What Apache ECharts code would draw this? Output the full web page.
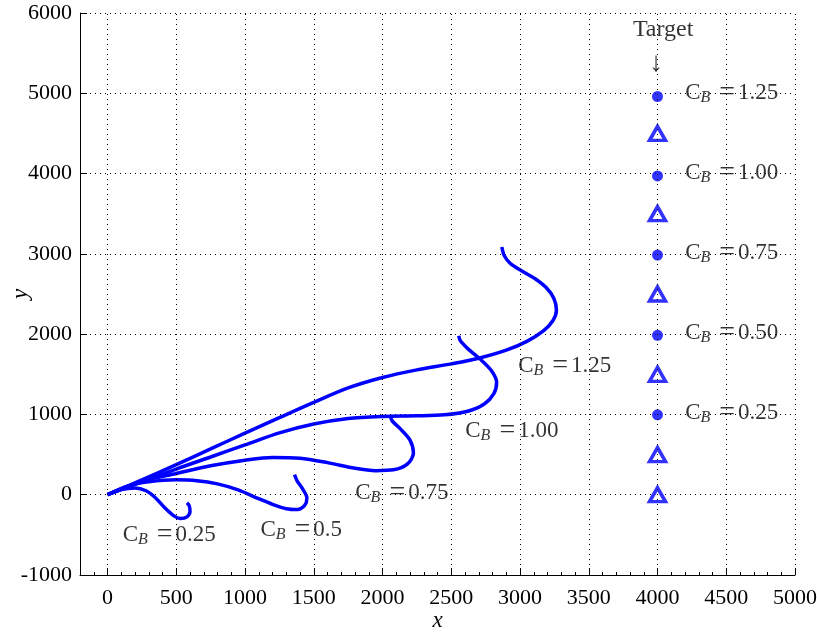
<!DOCTYPE html>
<html><head><meta charset="utf-8">
<script src="https://cdn.jsdelivr.net/npm/echarts@6/dist/echarts.min.js"></script>
<style>html,body{margin:0;padding:0;background:#fff}#c{width:817px;height:635px}</style>
</head><body><div id="c"></div>
<script>
// ---- data ----
const cb025 = [[0,0],[100,65],[200,85],[280,50],[350,-40],[420,-170],[480,-260],[530,-295],[575,-280],[600,-210],[595,-140],[578,-100]];
const cb050 = [[0,0],[150,110],[300,160],[500,185],[650,175],[800,135],[950,60],[1100,-50],[1200,-120],[1300,-175],[1380,-185],[1435,-130],[1450,-40],[1420,70],[1380,170],[1360,250]];
const cb075 = [[0,0],[250,165],[500,265],[750,360],[1000,430],[1200,465],[1400,455],[1600,400],[1800,330],[1950,300],[2080,310],[2180,380],[2225,520],[2200,680],[2130,820],[2070,920],[2055,995]];
const cb100 = [[0,0],[250,160],[500,320],[750,470],[1000,620],[1250,770],[1500,880],[1750,950],[2000,975],[2250,982],[2450,995],[2620,1040],[2740,1130],[2810,1260],[2830,1400],[2790,1550],[2710,1690],[2620,1820],[2565,1920],[2555,1980]];
const cb125 = [[0,0],[250,185],[500,374],[750,570],[1000,768],[1250,960],[1500,1150],[1750,1330],[2000,1460],[2250,1555],[2500,1630],[2700,1700],[2900,1800],[3050,1910],[3170,2040],[3240,2170],[3265,2300],[3245,2450],[3190,2580],[3110,2690],[3010,2790],[2930,2880],[2885,2980],[2868,3085]];
const targetCircles = [[4000,4960],[4000,3970],[4000,2985],[4000,1985],[4000,995]];
const targetTriangles = [[4000,4500],[4000,3500],[4000,2500],[4000,1500],[4000,500],[4000,0]];
const xTicks = [0,500,1000,1500,2000,2500,3000,3500,4000,4500,5000];
// annotation anchors (left-middle of text)
const curveLabels = [[110,-500,'0.25'],[1112,-436,'0.5'],[1802,25,'0.75'],[2602,797,'1.00'],[2987,1606,'1.25']];
const targetLabels = [[4201,5010,'1.25'],[4201,4010,'1.00'],[4201,3014,'0.75'],[4201,2017,'0.50'],[4201,1021,'0.25']];

const FONT = '"Liberation Serif", "DejaVu Serif", serif';
const BLUE = '#0000ff';
const rich = {
  c: {fontFamily: FONT, fontSize: 23, color: '#000', lineHeight: 26, verticalAlign: 'middle'},
  e: {fontFamily: FONT, fontSize: 28, color: '#000', lineHeight: 26, verticalAlign: 'middle', padding:[0,3,0,9]},
  b: {fontFamily: FONT, fontSize: 16, fontStyle: 'italic', color: '#000', lineHeight: 10, verticalAlign: 'bottom'}
};
function cbText(v){ return '{c|C}{b|B}{e|=}{c|' + v + '}'; }

const chart = echarts.init(document.getElementById('c'), null, {renderer: 'canvas'});
function lineSeries(d){
  return {type:'line', data:d, showSymbol:false, symbol:'none', smooth:0.3, lineStyle:{color:BLUE, width:3.5}, z:3, silent:true};
}
const labelSeries = (arr) => ({
  type:'scatter', symbolSize:0, silent:true, z:5,
  data: arr.map(a=>({value:[a[0],a[1]], label:{show:true, position:'right', distance:0, formatter: cbText(a[2]), rich: rich}}))
});
chart.setOption({
  animation:false,
  grid:{left:80, right:22, top:13, bottom:60, containLabel:false, outerBoundsMode:'none'},
  xAxis:[{
    type:'value', min:-200, max:5000, interval:100,
    axisLine:{show:true, onZero:false, lineStyle:{color:'#000', width:1}},
    axisTick:{show:true, inside:true, length:3, lineStyle:{color:'#000'}},
    axisLabel:{show:false}, splitLine:{show:false}
  },{
    type:'value', min:-200, max:5000, position:'bottom', offset:0,
    axisLine:{show:false, onZero:false},
    axisTick:{show:true, inside:true, length:7, customValues:xTicks, lineStyle:{color:'#000'}},
    axisLabel:{show:true, customValues:xTicks, margin:12, fontFamily:FONT, fontSize:22, color:'#000', formatter: v => String(v)},
    splitLine:{show:false},
    name:'x', nameLocation:'middle', nameGap:34, nameMoveOverlap:false,
    nameTextStyle:{fontFamily:FONT, fontSize:23, fontStyle:'italic', color:'#000'}
  }],
  yAxis:{
    type:'value', min:-1000, max:6000, interval:1000,
    axisLine:{show:true, onZero:false, lineStyle:{color:'#000', width:1}},
    axisTick:{show:true, inside:true, length:7, lineStyle:{color:'#000'}},
    axisLabel:{margin:8, fontFamily:FONT, fontSize:22, color:'#000', formatter: v => String(v)},
    splitLine:{show:true, lineStyle:{type:[1,4], color:'#000', width:1}},
    name:'y', nameLocation:'middle', nameGap:48, nameMoveOverlap:false,
    nameTextStyle:{fontFamily:FONT, fontSize:23, fontStyle:'italic', color:'#000'}
  },
  series:[
    {type:'line', data:[], silent:true, markLine:{silent:true, symbol:'none', label:{show:false}, animation:false,
      lineStyle:{type:[1,4], color:'#000', width:1}, data: xTicks.map(v=>({xAxis:v}))}},
    lineSeries(cb025), lineSeries(cb050), lineSeries(cb075), lineSeries(cb100), lineSeries(cb125),
    {type:'scatter', data:targetCircles, symbol:'circle', symbolSize:11, itemStyle:{color:BLUE}, z:4, silent:true},
    {type:'scatter', data:targetTriangles, symbol:'triangle', symbolSize:[16,14], itemStyle:{color:'#fff', borderColor:BLUE, borderWidth:3.5}, z:4, silent:true},
    labelSeries(curveLabels), labelSeries(targetLabels),
    {type:'scatter', symbolSize:0, silent:true, z:5, data:[
      {value:[4041,5790], label:{show:true, position:'inside', formatter:'Target', fontFamily:FONT, fontSize:24, color:'#000'}},
      {value:[3990,5370], label:{show:true, position:'inside', formatter:'\u2193', fontFamily:FONT, fontSize:28, color:'#000'}}
    ]}
  ]
});
</script></body></html>
